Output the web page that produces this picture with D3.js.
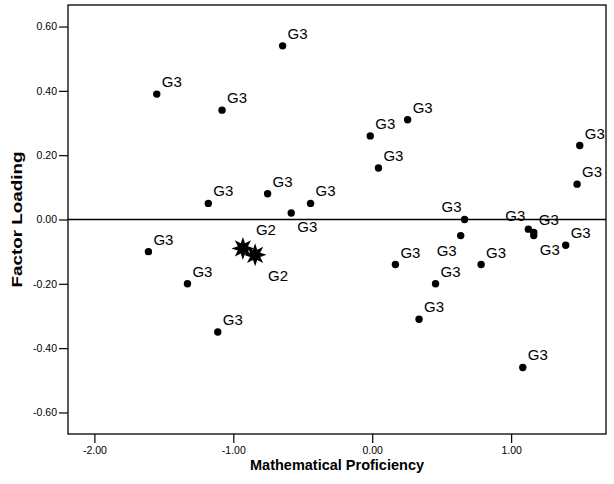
<!DOCTYPE html>
<html>
<head>
<meta charset="utf-8">
<script src="https://cdn.jsdelivr.net/npm/d3@7"></script>
<style>
  body { margin: 0; background: #fff; }
  svg { display: block; font-family: Arial, "Liberation Sans", sans-serif; }
</style>
</head>
<body>
<svg id="chart" width="614" height="484"></svg>
<script>
// --------------- Data ---------------
const mathProficiency = [
  -0.645, -1.551, -1.081, -0.014, 0.255, 0.045, 1.494, 1.475, -1.18, -0.753,
  -0.444, -0.583, 0.665, 0.637, 1.124, 1.163, 1.163, 1.393, -1.611, 0.167,
  0.784, -1.33, 0.456, 0.337, -1.112, 1.084, -0.931, -0.843
];
const factorLoading = [
  0.54, 0.39, 0.34, 0.26, 0.31, 0.16, 0.23, 0.11, 0.05, 0.08,
  0.05, 0.02, 0.0, -0.05, -0.03, -0.04, -0.05, -0.08, -0.1, -0.14,
  -0.14, -0.2, -0.2, -0.31, -0.35, -0.46, -0.09, -0.11
];
const groups = [
  "G3", "G3", "G3", "G3", "G3", "G3", "G3", "G3", "G3", "G3",
  "G3", "G3", "G3", "G3", "G3", "G3", "G3", "G3", "G3", "G3",
  "G3", "G3", "G3", "G3", "G3", "G3", "G2", "G2"
];
const xTicks = [-2, -1, 0, 1];
const yTicks = [-0.6, -0.4, -0.2, 0, 0.2, 0.4, 0.6];

// --------------- Constants ---------------
const WIDTH = 614;
const HEIGHT = 484;
const MARGINS = { top: 5, right: 8, bottom: 50, left: 68 };
const DOT_R = 3.7;
// where a label sits relative to its point (default is top-right)
const LABEL_SIDE = { 11: "br", 12: "tl", 13: "bl", 14: "tl", 16: "br", 27: "br" };
const OFFSETS = {
  tr: { dx: 5, dy: -7, anchor: "start" },
  br: { dx: 6, dy: 19, anchor: "start" },
  tl: { dx: -3, dy: -8, anchor: "end" },
  bl: { dx: -4, dy: 20, anchor: "end" }
};
const STAR_OFFSETS = {
  tr: { dx: 13, dy: -13, anchor: "start" },
  br: { dx: 13, dy: 26, anchor: "start" }
};

// --------------- Helpers ---------------
const starPath = (cx, cy, spikes = 8, outer = 11.5, inner = 5.5) => {
  const pts = [];
  for (let i = 0; i < spikes * 2; i++) {
    const r = i % 2 === 0 ? outer : inner;
    const a = (Math.PI * i) / spikes - Math.PI / 2;
    pts.push([cx + r * Math.cos(a), cy + r * Math.sin(a)]);
  }
  return "M" + pts.map((p) => p.join(",")).join("L") + "Z";
};
const fmt = (d) => d.toFixed(2);

// --------------- Prep SVG ---------------
const svg = d3.select("#chart");
const x = d3
  .scaleLinear()
  .domain([-2.19, 1.683])
  .range([MARGINS.left, WIDTH - MARGINS.right]);
const y = d3
  .scaleLinear()
  .domain([-0.667, 0.667])
  .range([HEIGHT - MARGINS.bottom, MARGINS.top]);

// axes
const xAxis = svg
  .append("g")
  .attr("transform", `translate(0,${HEIGHT - MARGINS.bottom})`)
  .call(d3.axisBottom(x).tickValues(xTicks).tickFormat(fmt).tickSize(9).tickPadding(4));
const yAxis = svg
  .append("g")
  .attr("transform", `translate(${MARGINS.left},0)`)
  .call(d3.axisLeft(y).tickValues(yTicks).tickFormat(fmt).tickSize(9).tickPadding(2));
[xAxis, yAxis].forEach((g) => {
  g.select(".domain").remove();
  g.selectAll("line").attr("stroke", "#000").attr("stroke-width", 1.2);
  g.selectAll("text")
    .attr("fill", "#000")
    .attr("font-size", "10.5px")
    .attr("font-family", "Arial, 'Liberation Sans', sans-serif");
});

// frame
svg
  .append("rect")
  .attr("x", x.range()[0])
  .attr("y", y.range()[1])
  .attr("width", x.range()[1] - x.range()[0])
  .attr("height", y.range()[0] - y.range()[1])
  .attr("fill", "none")
  .attr("stroke", "#000")
  .attr("stroke-width", 1.3);

// zero reference line
svg
  .append("line")
  .attr("x1", x.range()[0])
  .attr("x2", x.range()[1])
  .attr("y1", y(0))
  .attr("y2", y(0))
  .attr("stroke", "#000")
  .attr("stroke-width", 1.3);

// points
mathProficiency.forEach((mx, i) => {
  const cx = x(mx);
  const cy = y(factorLoading[i]);
  const isStar = groups[i] === "G2";
  if (isStar) {
    svg.append("path").attr("d", starPath(cx, cy)).attr("fill", "#000");
  } else {
    svg.append("circle").attr("cx", cx).attr("cy", cy).attr("r", DOT_R).attr("fill", "#000");
  }
  const side = LABEL_SIDE[i] || "tr";
  const off = isStar ? STAR_OFFSETS[side] : OFFSETS[side];
  svg
    .append("text")
    .text(groups[i])
    .attr("x", cx + off.dx)
    .attr("y", cy + off.dy)
    .attr("text-anchor", off.anchor)
    .attr("font-size", "15px")
    .attr("fill", "#000");
});

// axis titles
svg
  .append("text")
  .text("Mathematical Proficiency")
  .attr("x", (x.range()[0] + x.range()[1]) / 2)
  .attr("y", 470)
  .attr("text-anchor", "middle")
  .attr("font-size", "14px")
  .attr("font-weight", "bold")
  .attr("textLength", 174)
  .attr("lengthAdjust", "spacingAndGlyphs");
svg
  .append("text")
  .text("Factor Loading")
  .attr("transform", `translate(22,${(y.range()[0] + y.range()[1]) / 2}) rotate(-90)`)
  .attr("text-anchor", "middle")
  .attr("font-size", "14px")
  .attr("font-weight", "bold")
  .attr("textLength", 136)
  .attr("lengthAdjust", "spacingAndGlyphs");
</script>
</body>
</html>
